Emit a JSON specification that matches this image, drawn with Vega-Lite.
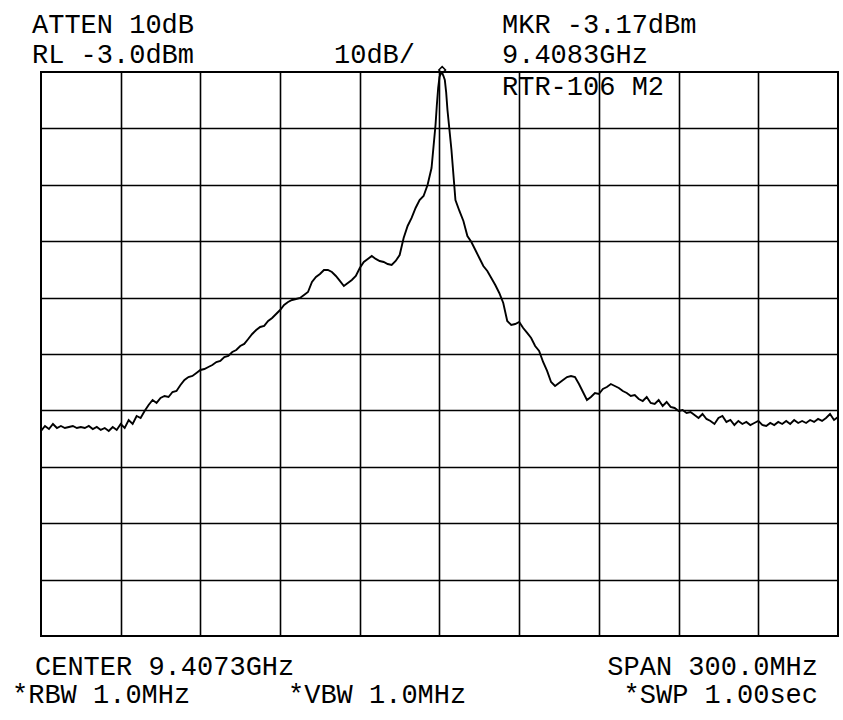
{
  "$schema": "https://vega.github.io/schema/vega-lite/v6.json",
  "width": 797,
  "height": 564,
  "autosize": {"type": "none"},
  "padding": {"left": 41, "top": 72, "right": 5, "bottom": 84},
  "background": "white",
  "config": {
    "view": {"stroke": "black", "strokeWidth": 2},
    "text": {"font": "Liberation Mono", "fontSize": 27, "color": "black", "align": "left", "baseline": "alphabetic"}
  },
  "datasets": {
    "trace": [
      {"freq": 9.2573, "dbm": -66.65}, {"freq": 9.2588, "dbm": -65.76}, {"freq": 9.2603, "dbm": -66.30}, {"freq": 9.2618, "dbm": -65.41},
      {"freq": 9.2633, "dbm": -66.12}, {"freq": 9.2648, "dbm": -65.76}, {"freq": 9.2663, "dbm": -66.12}, {"freq": 9.2678, "dbm": -65.94},
      {"freq": 9.2693, "dbm": -65.76}, {"freq": 9.2708, "dbm": -66.12}, {"freq": 9.2723, "dbm": -65.94}, {"freq": 9.2738, "dbm": -66.12},
      {"freq": 9.2753, "dbm": -65.76}, {"freq": 9.2768, "dbm": -66.30}, {"freq": 9.2783, "dbm": -65.94}, {"freq": 9.2798, "dbm": -66.47},
      {"freq": 9.2813, "dbm": -66.12}, {"freq": 9.2828, "dbm": -66.65}, {"freq": 9.2843, "dbm": -65.94}, {"freq": 9.2858, "dbm": -66.47},
      {"freq": 9.2873, "dbm": -65.41}, {"freq": 9.2888, "dbm": -66.12}, {"freq": 9.2903, "dbm": -64.70}, {"freq": 9.2918, "dbm": -65.41},
      {"freq": 9.2933, "dbm": -63.99}, {"freq": 9.2948, "dbm": -64.35}, {"freq": 9.2963, "dbm": -63.11}, {"freq": 9.2978, "dbm": -62.04},
      {"freq": 9.2993, "dbm": -61.15}, {"freq": 9.3008, "dbm": -61.68}, {"freq": 9.3023, "dbm": -60.80}, {"freq": 9.3038, "dbm": -60.45},
      {"freq": 9.3053, "dbm": -60.62}, {"freq": 9.3068, "dbm": -59.74}, {"freq": 9.3083, "dbm": -59.56}, {"freq": 9.3098, "dbm": -58.50},
      {"freq": 9.3113, "dbm": -57.61}, {"freq": 9.3128, "dbm": -57.08}, {"freq": 9.3143, "dbm": -56.90}, {"freq": 9.3158, "dbm": -56.37},
      {"freq": 9.3173, "dbm": -55.83}, {"freq": 9.3188, "dbm": -55.66}, {"freq": 9.3203, "dbm": -55.30}, {"freq": 9.3218, "dbm": -54.95},
      {"freq": 9.3233, "dbm": -54.42}, {"freq": 9.3248, "dbm": -54.24}, {"freq": 9.3263, "dbm": -53.53}, {"freq": 9.3278, "dbm": -53.35},
      {"freq": 9.3293, "dbm": -52.64}, {"freq": 9.3308, "dbm": -52.29}, {"freq": 9.3323, "dbm": -51.58}, {"freq": 9.3338, "dbm": -51.22},
      {"freq": 9.3353, "dbm": -50.34}, {"freq": 9.3368, "dbm": -49.45}, {"freq": 9.3383, "dbm": -48.74}, {"freq": 9.3398, "dbm": -48.21},
      {"freq": 9.3413, "dbm": -48.03}, {"freq": 9.3428, "dbm": -47.15}, {"freq": 9.3443, "dbm": -46.61}, {"freq": 9.3458, "dbm": -45.91},
      {"freq": 9.3473, "dbm": -45.20}, {"freq": 9.3488, "dbm": -44.31}, {"freq": 9.3503, "dbm": -43.78}, {"freq": 9.3518, "dbm": -43.42},
      {"freq": 9.3533, "dbm": -43.25}, {"freq": 9.3548, "dbm": -43.07}, {"freq": 9.3563, "dbm": -42.54}, {"freq": 9.3578, "dbm": -42.01},
      {"freq": 9.3593, "dbm": -40.23}, {"freq": 9.3608, "dbm": -39.35}, {"freq": 9.3623, "dbm": -38.81}, {"freq": 9.3638, "dbm": -38.10},
      {"freq": 9.3653, "dbm": -38.10}, {"freq": 9.3668, "dbm": -38.46}, {"freq": 9.3683, "dbm": -39.17}, {"freq": 9.3698, "dbm": -40.05},
      {"freq": 9.3713, "dbm": -40.94}, {"freq": 9.3728, "dbm": -40.41}, {"freq": 9.3743, "dbm": -39.88}, {"freq": 9.3758, "dbm": -39.17},
      {"freq": 9.3773, "dbm": -37.75}, {"freq": 9.3788, "dbm": -36.69}, {"freq": 9.3803, "dbm": -36.15}, {"freq": 9.3818, "dbm": -35.62},
      {"freq": 9.3833, "dbm": -36.15}, {"freq": 9.3848, "dbm": -36.51}, {"freq": 9.3863, "dbm": -36.69}, {"freq": 9.3878, "dbm": -37.04},
      {"freq": 9.3893, "dbm": -37.22}, {"freq": 9.3908, "dbm": -36.51}, {"freq": 9.3923, "dbm": -35.45}, {"freq": 9.3938, "dbm": -32.43},
      {"freq": 9.3953, "dbm": -30.30}, {"freq": 9.3968, "dbm": -28.88}, {"freq": 9.3983, "dbm": -27.11}, {"freq": 9.3998, "dbm": -25.69},
      {"freq": 9.4013, "dbm": -24.98}, {"freq": 9.4028, "dbm": -23.03}, {"freq": 9.4043, "dbm": -20.02}, {"freq": 9.4058, "dbm": -12.40},
      {"freq": 9.4063, "dbm": -8.85}, {"freq": 9.4068, "dbm": -5.84}, {"freq": 9.4073, "dbm": -3.89}, {"freq": 9.4078, "dbm": -3.30},
      {"freq": 9.4083, "dbm": -3.17}, {"freq": 9.4088, "dbm": -3.71}, {"freq": 9.4093, "dbm": -4.42}, {"freq": 9.4098, "dbm": -6.55},
      {"freq": 9.4103, "dbm": -9.74}, {"freq": 9.4118, "dbm": -16.83}, {"freq": 9.4133, "dbm": -25.69}, {"freq": 9.4148, "dbm": -27.64},
      {"freq": 9.4163, "dbm": -29.42}, {"freq": 9.4178, "dbm": -32.08}, {"freq": 9.4193, "dbm": -33.14}, {"freq": 9.4208, "dbm": -34.56},
      {"freq": 9.4223, "dbm": -35.98}, {"freq": 9.4238, "dbm": -37.40}, {"freq": 9.4253, "dbm": -38.28}, {"freq": 9.4268, "dbm": -39.52},
      {"freq": 9.4283, "dbm": -40.77}, {"freq": 9.4298, "dbm": -42.18}, {"freq": 9.4313, "dbm": -43.96}, {"freq": 9.4328, "dbm": -47.15},
      {"freq": 9.4343, "dbm": -47.85}, {"freq": 9.4358, "dbm": -47.68}, {"freq": 9.4373, "dbm": -47.32}, {"freq": 9.4388, "dbm": -48.39},
      {"freq": 9.4403, "dbm": -49.27}, {"freq": 9.4418, "dbm": -50.16}, {"freq": 9.4433, "dbm": -51.58}, {"freq": 9.4448, "dbm": -52.46},
      {"freq": 9.4463, "dbm": -54.42}, {"freq": 9.4478, "dbm": -56.01}, {"freq": 9.4493, "dbm": -57.96}, {"freq": 9.4508, "dbm": -58.67},
      {"freq": 9.4523, "dbm": -58.14}, {"freq": 9.4538, "dbm": -57.61}, {"freq": 9.4553, "dbm": -57.08}, {"freq": 9.4568, "dbm": -56.90},
      {"freq": 9.4583, "dbm": -57.08}, {"freq": 9.4598, "dbm": -58.32}, {"freq": 9.4613, "dbm": -59.74}, {"freq": 9.4628, "dbm": -61.15},
      {"freq": 9.4643, "dbm": -60.62}, {"freq": 9.4658, "dbm": -59.91}, {"freq": 9.4673, "dbm": -60.09}, {"freq": 9.4688, "dbm": -59.20},
      {"freq": 9.4703, "dbm": -58.85}, {"freq": 9.4718, "dbm": -58.32}, {"freq": 9.4733, "dbm": -58.67}, {"freq": 9.4748, "dbm": -59.03},
      {"freq": 9.4763, "dbm": -59.56}, {"freq": 9.4778, "dbm": -59.91}, {"freq": 9.4793, "dbm": -60.45}, {"freq": 9.4808, "dbm": -60.27},
      {"freq": 9.4823, "dbm": -60.98}, {"freq": 9.4838, "dbm": -61.33}, {"freq": 9.4853, "dbm": -60.62}, {"freq": 9.4868, "dbm": -61.68},
      {"freq": 9.4883, "dbm": -61.86}, {"freq": 9.4898, "dbm": -61.15}, {"freq": 9.4913, "dbm": -62.22}, {"freq": 9.4928, "dbm": -61.51},
      {"freq": 9.4943, "dbm": -62.39}, {"freq": 9.4958, "dbm": -62.57}, {"freq": 9.4973, "dbm": -63.11}, {"freq": 9.4988, "dbm": -62.93},
      {"freq": 9.5003, "dbm": -63.46}, {"freq": 9.5018, "dbm": -63.28}, {"freq": 9.5033, "dbm": -63.81}, {"freq": 9.5048, "dbm": -64.35},
      {"freq": 9.5063, "dbm": -63.64}, {"freq": 9.5078, "dbm": -64.52}, {"freq": 9.5093, "dbm": -64.87}, {"freq": 9.5108, "dbm": -65.41},
      {"freq": 9.5123, "dbm": -64.35}, {"freq": 9.5138, "dbm": -63.99}, {"freq": 9.5153, "dbm": -65.05}, {"freq": 9.5168, "dbm": -64.70},
      {"freq": 9.5183, "dbm": -65.59}, {"freq": 9.5198, "dbm": -64.87}, {"freq": 9.5213, "dbm": -65.41}, {"freq": 9.5228, "dbm": -65.05},
      {"freq": 9.5243, "dbm": -65.59}, {"freq": 9.5258, "dbm": -65.23}, {"freq": 9.5273, "dbm": -64.87}, {"freq": 9.5288, "dbm": -65.59},
      {"freq": 9.5303, "dbm": -65.76}, {"freq": 9.5318, "dbm": -65.23}, {"freq": 9.5333, "dbm": -65.59}, {"freq": 9.5348, "dbm": -65.05},
      {"freq": 9.5363, "dbm": -65.41}, {"freq": 9.5378, "dbm": -64.87}, {"freq": 9.5393, "dbm": -65.41}, {"freq": 9.5408, "dbm": -64.70},
      {"freq": 9.5423, "dbm": -65.23}, {"freq": 9.5438, "dbm": -64.87}, {"freq": 9.5453, "dbm": -65.23}, {"freq": 9.5468, "dbm": -64.70},
      {"freq": 9.5483, "dbm": -65.05}, {"freq": 9.5498, "dbm": -64.52}, {"freq": 9.5513, "dbm": -64.87}, {"freq": 9.5528, "dbm": -64.35},
      {"freq": 9.5543, "dbm": -63.64}, {"freq": 9.5558, "dbm": -64.70}, {"freq": 9.5573, "dbm": -64.17}
    ]
  },
  "layer": [
    {
      "data": {"name": "trace"},
      "mark": {"type": "line", "color": "black", "strokeWidth": 1.9, "clip": true},
      "encoding": {
        "x": {
          "field": "freq", "type": "quantitative",
          "scale": {"domain": [9.2573, 9.5573], "nice": false, "zero": false},
          "axis": {"grid": true, "gridColor": "black", "gridOpacity": 1, "gridWidth": 1.6,
                   "values": [9.2873, 9.3173, 9.3473, 9.3773, 9.4073, 9.4373, 9.4673, 9.4973, 9.5273],
                   "labels": false, "ticks": false, "domain": false, "title": null}
        },
        "y": {
          "field": "dbm", "type": "quantitative",
          "scale": {"domain": [-103, -3], "nice": false, "zero": false},
          "axis": {"grid": true, "gridColor": "black", "gridOpacity": 1, "gridWidth": 1.6,
                   "values": [-93, -83, -73, -63, -53, -43, -33, -23, -13],
                   "labels": false, "ticks": false, "domain": false, "title": null}
        }
      }
    },
    {
      "data": {"values": [{"freq": 9.4083, "dbm": -3.17}]},
      "mark": {"type": "point", "shape": "diamond", "filled": false, "color": "black", "opacity": 1, "strokeWidth": 1.5, "size": 45, "yOffset": -3},
      "encoding": {
        "x": {"field": "freq", "type": "quantitative", "scale": {"domain": [9.2573, 9.5573], "nice": false, "zero": false}},
        "y": {"field": "dbm", "type": "quantitative", "scale": {"domain": [-103, -3], "nice": false, "zero": false}}
      }
    },
    {"data": {"values": [{}]}, "mark": {"type": "text"}, "encoding": {"x": {"datum": 9.25391, "type": "quantitative"}, "y": {"datum": 3.92, "type": "quantitative"}, "text": {"value": "ATTEN 10dB"}}},
    {"data": {"values": [{}]}, "mark": {"type": "text"}, "encoding": {"x": {"datum": 9.25391, "type": "quantitative"}, "y": {"datum": -1.40, "type": "quantitative"}, "text": {"value": "RL -3.0dBm"}}},
    {"data": {"values": [{}]}, "mark": {"type": "text"}, "encoding": {"x": {"datum": 9.36759, "type": "quantitative"}, "y": {"datum": -1.40, "type": "quantitative"}, "text": {"value": "10dB/"}}},
    {"data": {"values": [{}]}, "mark": {"type": "text"}, "encoding": {"x": {"datum": 9.43083, "type": "quantitative"}, "y": {"datum": 3.92, "type": "quantitative"}, "text": {"value": "MKR -3.17dBm"}}},
    {"data": {"values": [{}]}, "mark": {"type": "text"}, "encoding": {"x": {"datum": 9.43083, "type": "quantitative"}, "y": {"datum": -1.40, "type": "quantitative"}, "text": {"value": "9.4083GHz"}}},
    {"data": {"values": [{}]}, "mark": {"type": "text"}, "encoding": {"x": {"datum": 9.43083, "type": "quantitative"}, "y": {"datum": -7.08, "type": "quantitative"}, "text": {"value": "RTR-106 M2"}}},
    {"data": {"values": [{}]}, "mark": {"type": "text"}, "encoding": {"x": {"datum": 9.25504, "type": "quantitative"}, "y": {"datum": -109.91, "type": "quantitative"}, "text": {"value": "CENTER 9.4073GHz"}}},
    {"data": {"values": [{}]}, "mark": {"type": "text", "align": "right"}, "encoding": {"x": {"datum": 9.54977, "type": "quantitative"}, "y": {"datum": -109.91, "type": "quantitative"}, "text": {"value": "SPAN 300.0MHz"}}},
    {"data": {"values": [{}]}, "mark": {"type": "text"}, "encoding": {"x": {"datum": 9.24638, "type": "quantitative"}, "y": {"datum": -114.88, "type": "quantitative"}, "text": {"value": "*RBW 1.0MHz"}}},
    {"data": {"values": [{}]}, "mark": {"type": "text"}, "encoding": {"x": {"datum": 9.35027, "type": "quantitative"}, "y": {"datum": -114.88, "type": "quantitative"}, "text": {"value": "*VBW 1.0MHz"}}},
    {"data": {"values": [{}]}, "mark": {"type": "text", "align": "right"}, "encoding": {"x": {"datum": 9.54977, "type": "quantitative"}, "y": {"datum": -114.88, "type": "quantitative"}, "text": {"value": "*SWP 1.00sec"}}}
  ]
}
